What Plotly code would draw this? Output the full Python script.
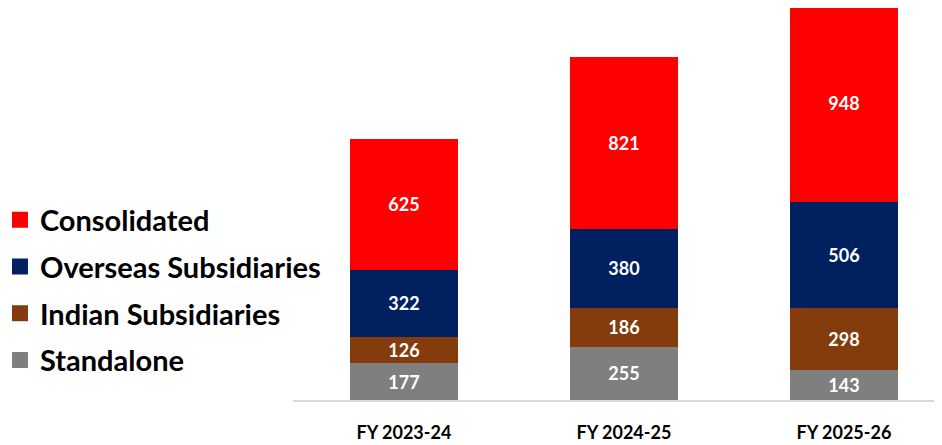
import plotly.graph_objects as go

# Stacked revenue build-up by financial year
years = ["FY 2023-24", "FY 2024-25", "FY 2025-26"]
standalone = [177, 255, 143]
indian_subs = [126, 186, 298]
overseas_subs = [322, 380, 506]
consolidated = [625, 821, 948]

series = [
    ("Standalone", standalone, "#7f7f7f"),
    ("Indian Subsidiaries", indian_subs, "#843c0c"),
    ("Overseas Subsidiaries", overseas_subs, "#002060"),
    ("Consolidated", consolidated, "#ff0000"),
]

fig = go.Figure()
for name, vals, col in series:
    fig.add_trace(go.Bar(
        x=years, y=vals, name=name, marker_color=col, marker_line_width=0,
        text=vals, textposition="inside", insidetextanchor="middle",
        textfont=dict(family="Lato", size=18, color="white", weight="bold"),
        showlegend=False, width=0.494,
    ))

# legend entries (top to bottom) with a bigger square than the bar icon
for name, vals, col in reversed(series):
    fig.add_trace(go.Scatter(
        x=[None], y=[None], mode="markers", name=name, legendgroup=name,
        marker=dict(symbol="square", size=16, color=col),
    ))

fig.update_layout(
    barmode="stack",
    width=942, height=445,
    margin=dict(l=285, r=0, t=0, b=53, autoexpand=False),
    paper_bgcolor="white", plot_bgcolor="white",
    uniformtext=dict(mode="show", minsize=18),
    legend=dict(
        x=-0.446, xanchor="left", y=0.2806, yanchor="middle",
        traceorder="grouped", tracegroupgap=6,
        font=dict(family="Lato", size=29, color="black", weight="bold"),
        bgcolor="rgba(0,0,0,0)",
    ),
)
fig.update_xaxes(
    range=[-0.5045, 2.482], showline=True, linecolor="#d9d9d9", linewidth=1.5,
    showgrid=False, ticks="", ticklabelstandoff=16, automargin=False,
    tickfont=dict(family="Lato", size=18, color="black", weight="bold"),
)
fig.update_yaxes(range=[0, 1878], visible=False, automargin=False)

fig.write_html("out.html")
